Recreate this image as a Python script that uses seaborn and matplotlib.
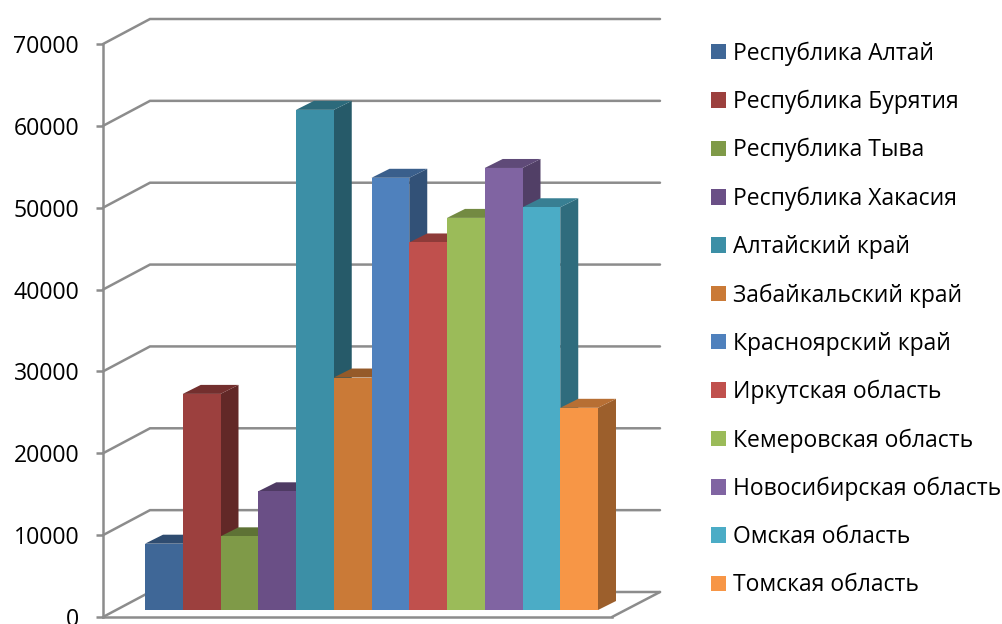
import matplotlib
matplotlib.use("Agg")
import matplotlib.pyplot as plt
import seaborn as sns
import pandas as pd
from matplotlib.colors import to_rgb
from matplotlib.patches import Patch, Polygon

regions = ["Республика Алтай", "Республика Бурятия", "Республика Тыва", "Республика Хакасия",
           "Алтайский край", "Забайкальский край", "Красноярский край", "Иркутская область",
           "Кемеровская область", "Новосибирская область", "Омская область", "Томская область"]
values = [8100, 26400, 9000, 14500, 61100, 28400, 52800, 44900, 47900, 54000, 49200, 24700]
colors = ["#3F6797", "#9C403E", "#7F9A48", "#6A4F86", "#3C8FA6", "#CA7A37",
          "#4F81BD", "#C0504D", "#9BBB59", "#8064A2", "#4BACC6", "#F79646"]
y_ticks = [0, 10000, 20000, 30000, 40000, 50000, 60000, 70000]

W, H = 1002, 624
sns.set_theme(style="white")
plt.rcParams["font.family"] = ["Open Sans", "DejaVu Sans"]
fig = plt.figure(figsize=(W / 100, H / 100), dpi=100)

def px_axes(x0, x1, ytop, ybot):
    return fig.add_axes([x0 / W, 1 - ybot / H, (x1 - x0) / W, (ybot - ytop) / H])

GRID = "#8C8C8C"
LW = 1.8
YMAX = 70000

# wall: the front plane of the chart box
wall = px_axes(103, 612, 44, 617)
wall.set_xlim(0, 1)
wall.set_ylim(0, YMAX)
wall.set_xticks([])
wall.set_yticks(y_ticks)
wall.set_yticklabels([str(v) for v in y_ticks], fontsize=16.6, color="black")
wall.tick_params(axis="y", length=5.2, width=LW, color=GRID, pad=12, left=True)
for name, sp in wall.spines.items():
    sp.set_visible(name in ("left", "bottom"))
    sp.set_color(GRID)
    sp.set_linewidth(LW)
wall_dx = 47 / 509
wall_dy = 25 * YMAX / 573
back_end = (660 - 103) / 509
for v in y_ticks:
    wall.plot([0, wall_dx, back_end], [v, v + wall_dy, v + wall_dy], color=GRID, lw=LW,
              clip_on=False, solid_joinstyle="miter", zorder=1)
wall.plot([1, back_end], [0, wall_dy], color=GRID, lw=LW, clip_on=False, zorder=1)

# bars
ax = px_axes(145, 598, 37, 610)
ax.patch.set_alpha(0)
df = pd.DataFrame({"region": pd.Categorical(regions, categories=regions, ordered=True), "value": values})
sns.barplot(data=df, x="region", y="value", hue="region", palette=colors, width=1,
            dodge=False, legend=False, saturation=1, ax=ax, linewidth=0)
ax.set_xlim(-0.5, 11.5)
ax.set_ylim(0, YMAX)
ax.axis("off")

dx = 18 / (453 / 12)
dy = 9 * YMAX / 573

def shade(c, f):
    return tuple(min(1, v * f) for v in to_rgb(c))

for i, (val, col) in enumerate(zip(values, colors)):
    bar = ax.containers[i][0]
    bar.set_zorder(2 * i + 3)
    l, r = i - 0.5, i + 0.5
    side = Polygon([(r, 0), (r + dx, dy), (r + dx, val + dy), (r, val)], closed=True,
                   facecolor=shade(col, 0.63), edgecolor="none", clip_on=False, zorder=2 * i + 2)
    top = Polygon([(l, val), (l + dx, val + dy), (r + dx, val + dy), (r, val)], closed=True,
                  facecolor=shade(col, 0.74), edgecolor="none", clip_on=False, zorder=2 * i + 2)
    ax.add_patch(side)
    ax.add_patch(top)

handles = [Patch(facecolor=c, edgecolor="none", label=r) for c, r in zip(colors, regions)]
fig.legend(handles=handles, loc="upper left", bbox_to_anchor=(702 / W, 1 - 32 / H),
           frameon=False, fontsize=16.5, handlelength=0.655, handleheight=0.655,
           handletextpad=0.29, labelspacing=1.052, borderpad=0.4, borderaxespad=0,
           labelcolor="black")

fig.savefig("out.png", dpi=100)
